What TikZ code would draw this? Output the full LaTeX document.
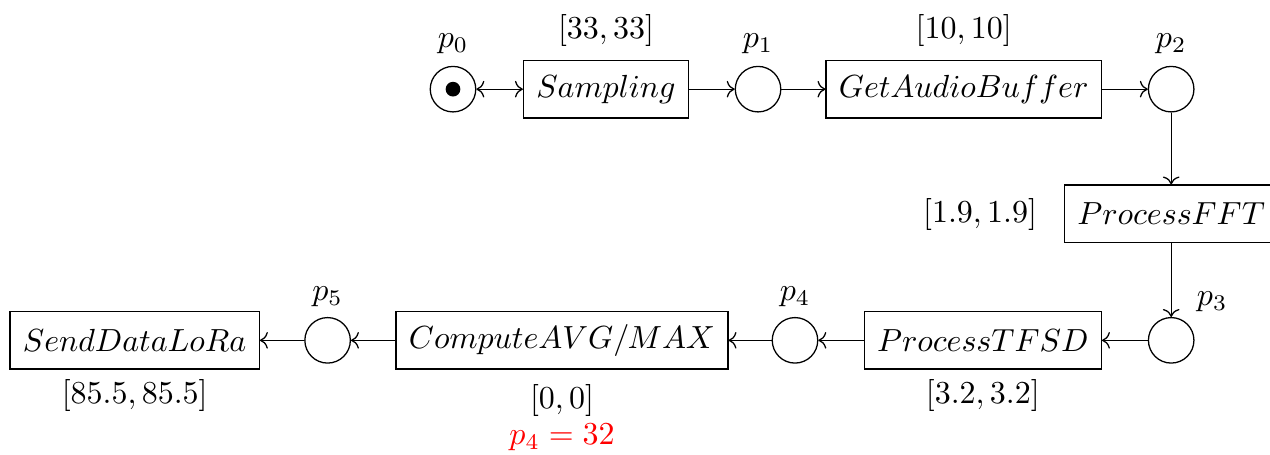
\documentclass[tikz,border=0pt]{standalone}
\usepackage{amsmath,amssymb}
\usepackage{xcolor}
\usepackage{tikz}
\usetikzlibrary{arrows.meta,calc,positioning}
\tikzset{
  place/.style={draw,circle,minimum size=5mm,inner sep=0pt},
  trans/.style={draw,rectangle,minimum height=18pt,inner xsep=4pt},
  token/.style={fill,circle,inner sep=0pt,minimum size=4.6pt},
}

\begin{document}
\begin{tikzpicture}[x=1cm,y=1cm,->]
  \useasboundingbox (0,0) rectangle (13.956,5.0);
  % places and transitions
  \node[place] (p0) at (4.978,4.02) {};
  \node[token] (tok) at (p0) {};
  \node[trans] (samp) at (6.659,4.02) {$Sampling$};
  \node[place] (p1) at (8.33,4.02) {};
  \node[trans] (getbuf) at (10.59,4.02) {$GetAudioBuffer$};
  \node[place] (p2) at (12.87,4.02) {};
  \node[trans] (fft) at (12.87,2.65) {$ProcessFFT$};
  \node[place] (p3) at (12.87,1.26) {};
  \node[trans] (tfsd) at (10.80,1.26) {$ProcessTFSD$};
  \node[place] (p4) at (8.736,1.26) {};
  \node[trans] (avg) at (6.176,1.26) {$ComputeAVG/MAX$};
  \node[place] (p5) at (3.60,1.26) {};
  \node[trans] (lora) at (1.48,1.26) {$SendDataLoRa$};
  % labels
  \node (lp0) at (4.978,4.52) {$p_0$};
  \node (lp1) at (8.33,4.52) {$p_1$};
  \node (lp2) at (12.87,4.52) {$p_2$};
  \node (lp3) at (13.32,1.68) {$p_3$};
  \node (lp4) at (8.736,1.74) {$p_4$};
  \node (lp5) at (3.60,1.74) {$p_5$};
  \node (tsamp) at (6.659,4.67) {$[33,33]$};
  \node (tgetbuf) at (10.59,4.67) {$[10,10]$};
  \node (tfft) at (10.77,2.64) {$[1.9,1.9]$};
  \node (ttfsd) at (10.80,0.65) {$[3.2,3.2]$};
  \node (tavg) at (6.176,0.60) {$[0,0]$};
  \node[red] (mark4) at (6.176,0.19) {$p_4=32$};
  \node (tlora) at (1.48,0.65) {$[85.5,85.5]$};
  % arcs
  \draw[<->] (p0) -- (samp);
  \draw (samp) -- (p1);
  \draw (p1) -- (getbuf);
  \draw (getbuf) -- (p2);
  \draw (p2) -- (fft);
  \draw (fft) -- (p3);
  \draw (p3) -- (tfsd);
  \draw (tfsd) -- (p4);
  \draw (p4) -- (avg);
  \draw (avg) -- (p5);
  \draw (p5) -- (lora);
\end{tikzpicture}
\end{document}
